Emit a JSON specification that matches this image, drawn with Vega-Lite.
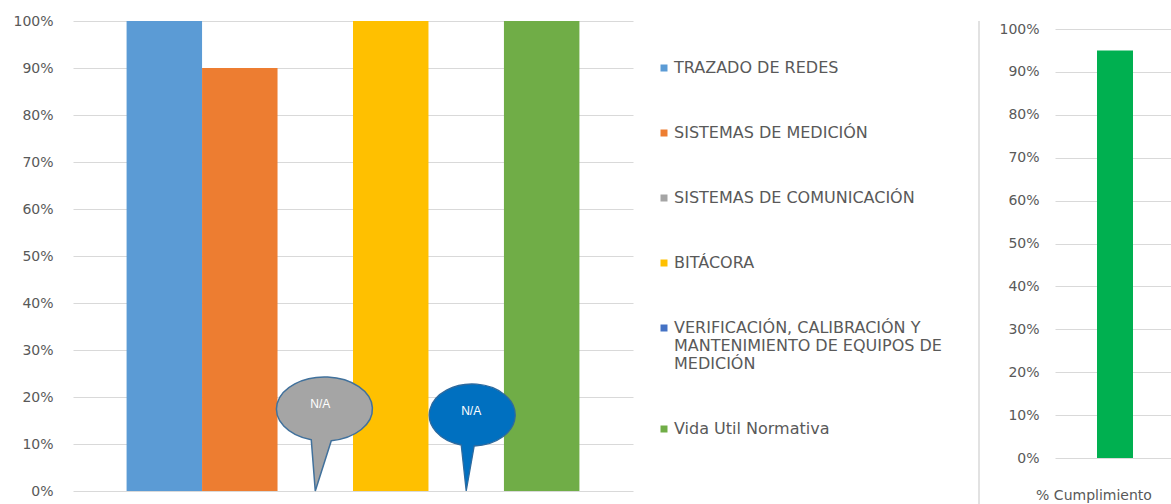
{
  "$schema": "https://vega.github.io/schema/vega-lite/v6.json",
  "padding": {"left": 12, "top": 14, "right": 0, "bottom": 0},
  "background": "white",
  "datasets": {
    "areas": [
      {"category": "TRAZADO DE REDES", "value": 1.0, "note": null},
      {"category": "SISTEMAS DE MEDICIÓN", "value": 0.9, "note": null},
      {"category": "SISTEMAS DE COMUNICACIÓN", "value": 0, "note": "N/A"},
      {"category": "BITÁCORA", "value": 1.0, "note": null},
      {"category": "VERIFICACIÓN, CALIBRACIÓN Y MANTENIMIENTO DE EQUIPOS DE MEDICIÓN", "value": 0, "note": "N/A"},
      {"category": "Vida Util Normativa", "value": 1.0, "note": null}
    ],
    "total": [{"indicador": "% Cumplimiento", "value": 0.95}]
  },
  "hconcat": [
    {
      "width": 560,
      "height": 470,
      "data": {"name": "areas"},
      "encoding": {
        "x": {
          "field": "category", "type": "nominal",
          "scale": {
            "domain": ["TRAZADO DE REDES", "SISTEMAS DE MEDICIÓN", "SISTEMAS DE COMUNICACIÓN", "BITÁCORA", "VERIFICACIÓN, CALIBRACIÓN Y MANTENIMIENTO DE EQUIPOS DE MEDICIÓN", "Vida Util Normativa"],
            "paddingInner": 0, "paddingOuter": 0.71
          },
          "axis": null
        },
        "y": {
          "field": "value", "type": "quantitative",
          "scale": {"domain": [0, 1], "nice": false},
          "axis": {"title": null, "format": "%", "values": [0, 0.1, 0.2, 0.3, 0.4, 0.5, 0.6, 0.7, 0.8, 0.9, 1], "labelPadding": 20}
        }
      },
      "layer": [
        {
          "mark": {"type": "bar"},
          "encoding": {
            "color": {
              "field": "category", "type": "nominal",
              "scale": {
                "domain": ["TRAZADO DE REDES", "SISTEMAS DE MEDICIÓN", "SISTEMAS DE COMUNICACIÓN", "BITÁCORA", "VERIFICACIÓN, CALIBRACIÓN Y MANTENIMIENTO DE EQUIPOS DE MEDICIÓN", "Vida Util Normativa"],
                "range": ["#5B9BD5", "#ED7D31", "#A5A5A5", "#FFC000", "#4472C4", "#70AD47"]
              },
              "legend": {
                "title": null,
                "orient": "none",
                "legendX": 583,
                "legendY": 39,
                "symbolType": "square",
                "symbolSize": 49,
                "symbolStrokeWidth": 0,
                "labelFont": "DejaVu Sans",
                "labelFontSize": 16,
                "labelColor": "#595959",
                "labelOffset": 2,
                "rowPadding": 49,
                "labelLimit": 400,
                "labelExpr": "datum.label == 'VERIFICACIÓN, CALIBRACIÓN Y MANTENIMIENTO DE EQUIPOS DE MEDICIÓN' ? ['VERIFICACIÓN, CALIBRACIÓN Y', 'MANTENIMIENTO DE EQUIPOS DE', 'MEDICIÓN'] : datum.label"
              }
            }
          }
        },
        {
          "transform": [{"filter": "datum.category == 'SISTEMAS DE COMUNICACIÓN'"}],
          "mark": {
            "type": "point", "filled": true, "opacity": 1, "size": 40000,
            "color": "#A5A5A5", "stroke": "#41719C", "strokeWidth": 1.5,
            "shape": "M 0 0 L -0.04 -0.512 A 0.48 0.32 0 1 1 0.16 -0.503 Z"
          }
        },
        {
          "transform": [{"filter": "datum.category == 'SISTEMAS DE COMUNICACIÓN'"}],
          "mark": {"type": "text", "color": "white", "font": "Liberation Sans", "fontSize": 12, "dx": 5, "dy": -87},
          "encoding": {"text": {"field": "note"}}
        },
        {
          "transform": [{"filter": "datum.category == 'VERIFICACIÓN, CALIBRACIÓN Y MANTENIMIENTO DE EQUIPOS DE MEDICIÓN'"}],
          "mark": {
            "type": "point", "filled": true, "opacity": 1, "size": 40000,
            "color": "#0070C0", "stroke": "#2E6A9E", "strokeWidth": 1.3,
            "shape": "M 0 0 L -0.05 -0.46 A 0.43 0.31 0 1 1 0.08 -0.45 Z"
          }
        },
        {
          "transform": [{"filter": "datum.category == 'VERIFICACIÓN, CALIBRACIÓN Y MANTENIMIENTO DE EQUIPOS DE MEDICIÓN'"}],
          "mark": {"type": "text", "color": "white", "font": "Liberation Sans", "fontSize": 12, "dx": 5, "dy": -80},
          "encoding": {"text": {"field": "note"}}
        }
      ]
    },
    {
      "width": 328,
      "height": 490,
      "data": {"name": "total"},
      "mark": {"type": "rule", "color": "#D9D9D9", "strokeWidth": 1.5},
      "encoding": {
        "x": {"datum": 1, "type": "quantitative", "scale": {"domain": [0, 1]}, "axis": null}
      }
    },
    {
      "width": 120,
      "height": 437,
      "data": {"name": "total"},
      "mark": {"type": "bar", "color": "#00B050", "width": 36},
      "encoding": {
        "x": {
          "field": "indicador", "type": "nominal",
          "axis": {"title": null, "labelAngle": 0, "labelPadding": 30, "labelOffset": -21, "labelFontSize": 14}
        },
        "y": {
          "field": "value", "type": "quantitative",
          "scale": {"domain": [0, 1.01865], "nice": false, "zero": true},
          "axis": {"title": null, "format": "%", "values": [0, 0.1, 0.2, 0.3, 0.4, 0.5, 0.6, 0.7, 0.8, 0.9, 1], "labelPadding": 16}
        }
      }
    }
  ],
  "config": {
    "view": {"stroke": null},
    "concat": {"spacing": 18},
    "axis": {
      "labelFont": "DejaVu Sans", "labelFontSize": 14, "labelColor": "#595959",
      "gridColor": "#D9D9D9", "gridWidth": 1, "domain": false, "ticks": false
    },
    "axisX": {"grid": false}
  }
}
